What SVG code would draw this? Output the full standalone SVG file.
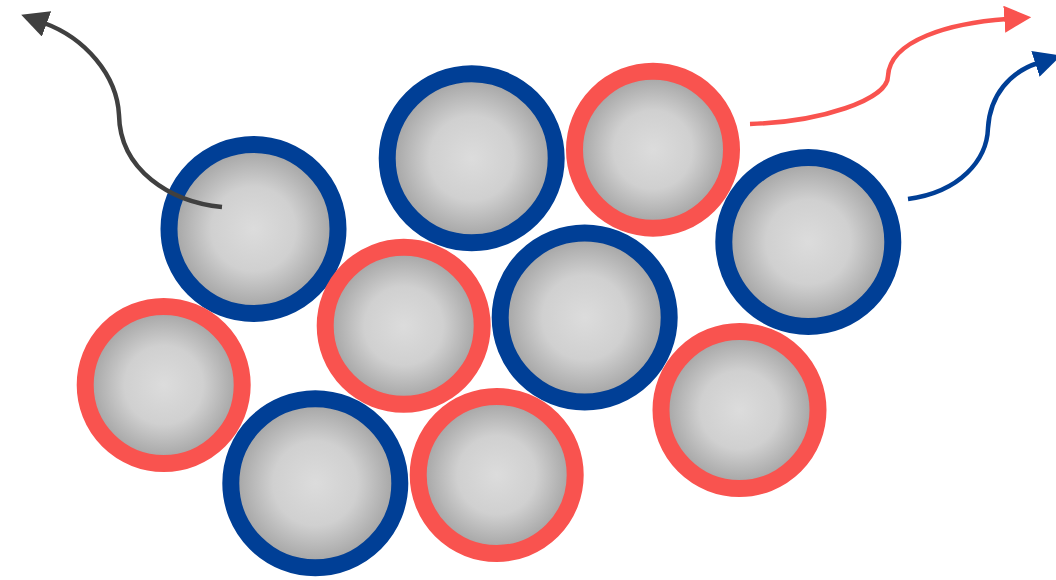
<svg xmlns="http://www.w3.org/2000/svg" width="1056" height="580" viewBox="0 0 1056 580">
<defs>
<radialGradient id="g" cx="0.5" cy="0.5" r="0.5">
<stop offset="0" stop-color="#dcdcdc"/>
<stop offset="0.5" stop-color="#d0d0d0"/>
<stop offset="0.9" stop-color="#a9a9a9"/>
<stop offset="1" stop-color="#a9a9a9"/>
</radialGradient>
<marker id="ad" viewBox="0 0 10 10" refX="1" refY="5" markerWidth="27" markerHeight="27" markerUnits="userSpaceOnUse" orient="auto"><path d="M0,0 L10,5 L0,10 z" fill="#404040"/></marker>
<marker id="ar" viewBox="0 0 10 10" refX="1" refY="5" markerWidth="27" markerHeight="27" markerUnits="userSpaceOnUse" orient="auto"><path d="M0,0 L10,5 L0,10 z" fill="#f9534f"/></marker>
<marker id="ab" viewBox="0 0 10 10" refX="1" refY="5" markerWidth="27" markerHeight="27" markerUnits="userSpaceOnUse" orient="auto"><path d="M0,0 L10,5 L0,10 z" fill="#003f96"/></marker>
</defs>
<style>
.b{fill:url(#g);stroke:#003f96;stroke-width:17}
.r{fill:url(#g);stroke:#f9534f;stroke-width:17}
.c{fill:none;stroke-width:4.5}
</style>
<rect width="1056" height="580" fill="#ffffff"/>
<g id="p1"><circle class="b" cx="253.5" cy="229" r="84.5"/></g>
<g id="p2"><circle class="b" cx="471.7" cy="158.3" r="84.5"/></g>
<g id="p3"><circle class="r" cx="653" cy="149.7" r="78.5"/></g>
<g id="p4"><circle class="b" cx="808.3" cy="242" r="84.5"/></g>
<g id="p5"><circle class="r" cx="403.7" cy="325.8" r="78.5"/></g>
<g id="p6"><circle class="b" cx="584.7" cy="317.5" r="84.5"/></g>
<g id="p7"><circle class="r" cx="163.7" cy="385" r="78.5"/></g>
<g id="p8"><circle class="b" cx="315.3" cy="483.3" r="84.5"/></g>
<g id="p9"><circle class="r" cx="496.7" cy="475" r="78.5"/></g>
<g id="p10"><circle class="r" cx="739.5" cy="410" r="78.5"/></g>
<g id="connectors">
<path class="c" stroke="#404040" d="M222,207 C170,202 120,170 119,115 C117,75 85,38 44,23" marker-end="url(#ad)"/>
<path class="c" stroke="#f9534f" d="M750,124 C820,122 888,100 888,76 C890,40 950,23 1007,19" marker-end="url(#ar)"/>
<path class="c" stroke="#003f96" d="M908,199 C960,192 987,160 988,128 C990,95 1010,72 1038,63" marker-end="url(#ab)"/>
</g>
</svg>
